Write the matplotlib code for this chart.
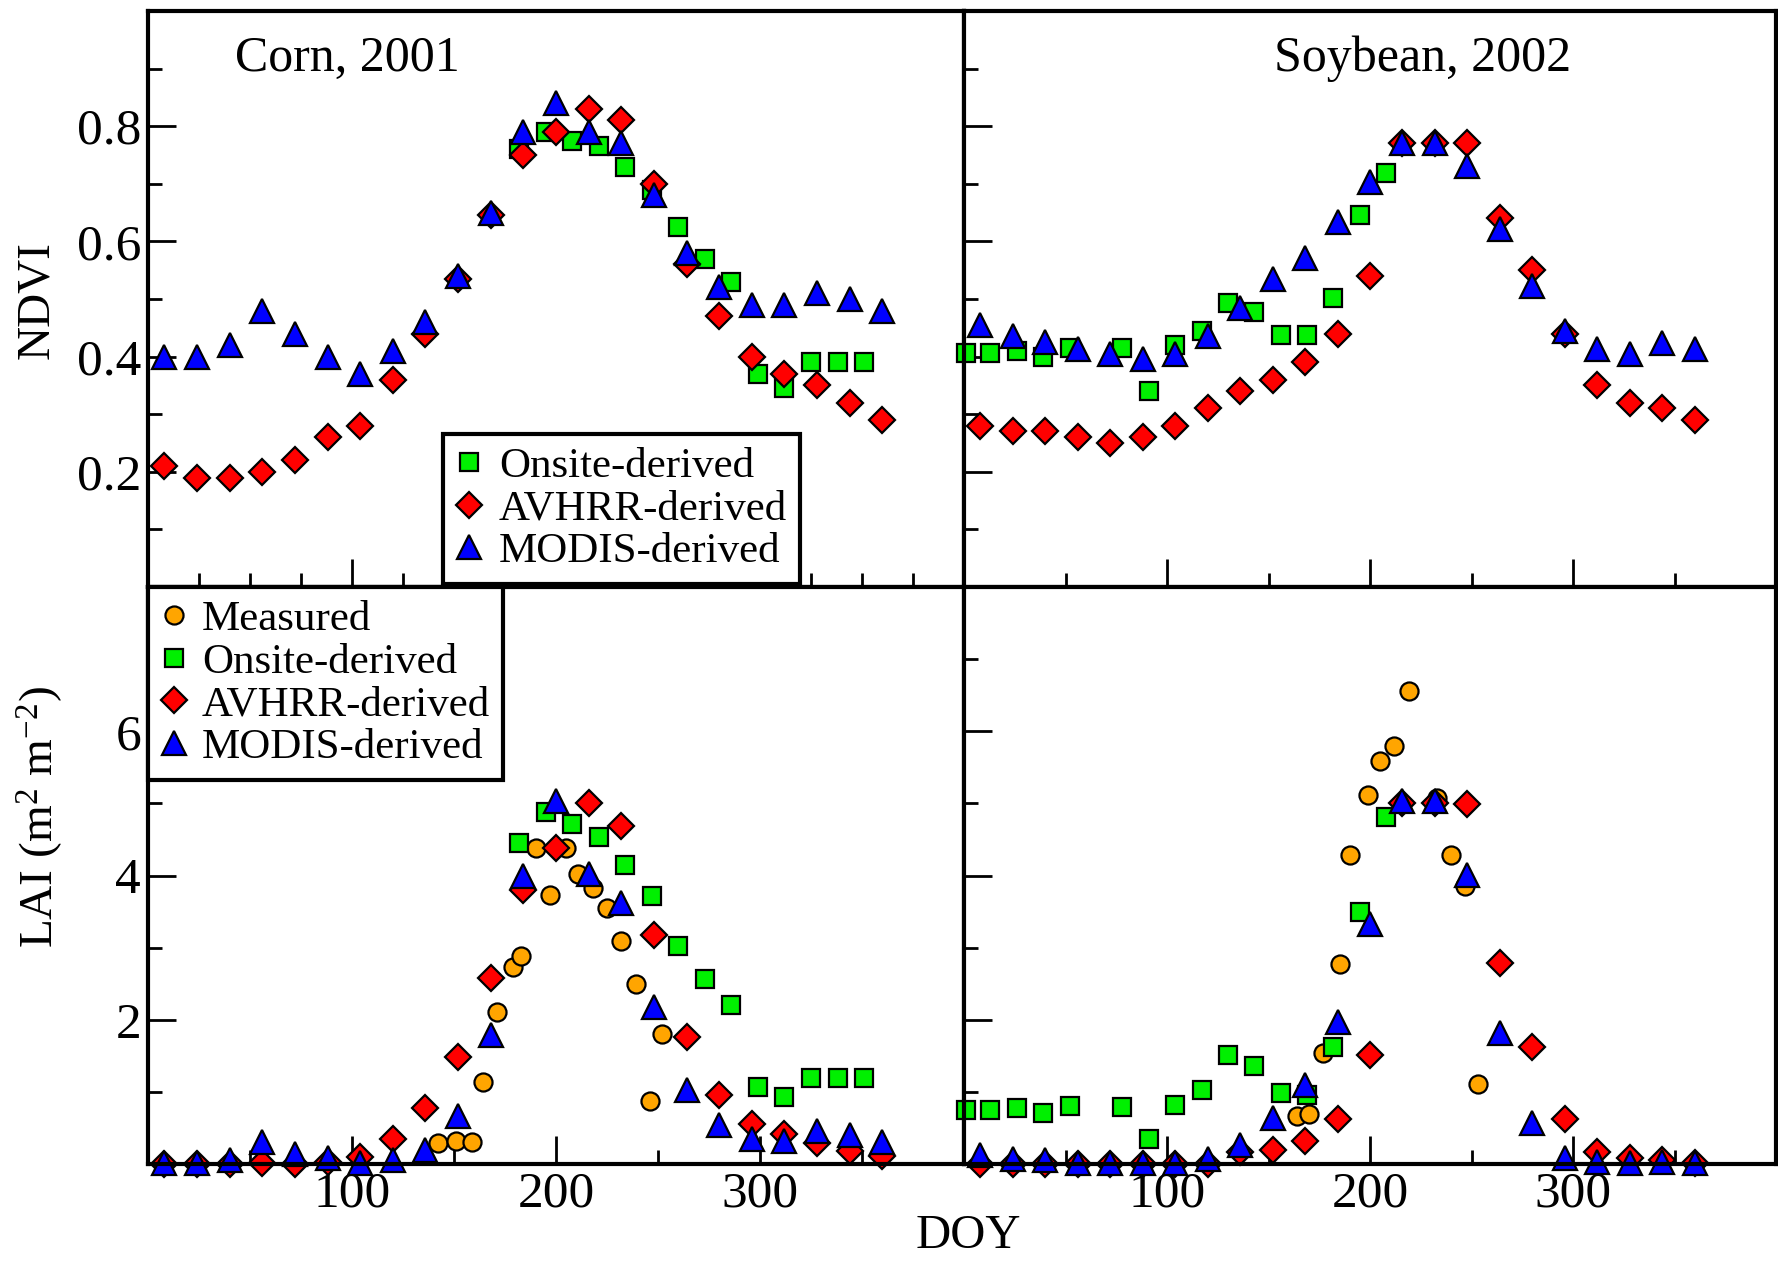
import matplotlib
matplotlib.use("Agg")
import matplotlib.pyplot as plt
from matplotlib.ticker import MultipleLocator, FixedLocator

plt.rcParams['font.family'] = 'Liberation Serif'
plt.rcParams['mathtext.fontset'] = 'custom'
plt.rcParams['mathtext.rm'] = 'Liberation Serif'
plt.rcParams['mathtext.it'] = 'Liberation Serif:italic'

## datos: MODIS / AVHRR cada 16 dias
doy16 = [8, 24, 40, 56, 72, 88, 104, 120, 136, 152, 168, 184, 200, 216, 232,
         248, 264, 280, 296, 312, 328, 344, 360]

# Corn, 2001
corn_modis_ndvi = [0.40, 0.40, 0.42, 0.48, 0.44, 0.40, 0.37, 0.41, 0.46, 0.54, 0.65, 0.79,
                   0.84, 0.79, 0.77, 0.68, 0.58, 0.52, 0.49, 0.49, 0.51, 0.50, 0.48]
corn_avhrr_ndvi = [0.21, 0.19, 0.19, 0.20, 0.22, 0.26, 0.28, 0.36, 0.44, 0.535, 0.645, 0.75,
                   0.79, 0.83, 0.81, 0.70, 0.56, 0.47, 0.40, 0.37, 0.35, 0.32, 0.29]
corn_onsite_doy = [182, 195, 208, 221, 234, 247, 260, 273, 286, 299, 312, 325, 338, 351]
corn_onsite_ndvi = [0.76, 0.79, 0.775, 0.765, 0.73, 0.69, 0.625, 0.57, 0.53, 0.37, 0.345,
                    0.39, 0.39, 0.39]
corn_onsite_lai = [4.45, 4.88, 4.71, 4.54, 4.15, 3.71, 3.02, 2.56, 2.21, 1.07, 0.93,
                   1.19, 1.19, 1.19]
corn_meas_doy = [142, 151, 159, 164, 171, 179, 183, 190, 197, 205, 211, 218, 225, 232,
                 239, 246, 252]
corn_meas_lai = [0.29, 0.32, 0.31, 1.14, 2.11, 2.73, 2.89, 4.38, 3.73, 4.38, 4.02, 3.83,
                 3.55, 3.09, 2.50, 0.87, 1.80]
corn_modis_lai = [0.01, 0.01, 0.05, 0.30, 0.14, 0.08, 0.02, 0.05, 0.19, 0.67, 1.79, 3.99,
                  5.03, 4.02, 3.62, 2.18, 1.02, 0.54, 0.34, 0.32, 0.46, 0.40, 0.30]
corn_avhrr_lai = [0.0, 0.0, 0.0, 0.02, 0.0, 0.03, 0.10, 0.35, 0.77, 1.49, 2.58, 3.80,
                  4.38, 5.0, 4.68, 3.18, 1.76, 0.96, 0.56, 0.42, 0.29, 0.18, 0.11]

# Soybean, 2002
soy_modis_ndvi = [0.455, 0.435, 0.425, 0.413, 0.405, 0.396, 0.405, 0.435, 0.484, 0.534,
                  0.571, 0.633, 0.703, 0.771, 0.771, 0.731, 0.622, 0.523, 0.444, 0.413,
                  0.404, 0.424, 0.413]
soy_avhrr_ndvi = [0.28, 0.27, 0.27, 0.26, 0.25, 0.26, 0.28, 0.31, 0.34, 0.36, 0.39, 0.44,
                  0.54, 0.77, 0.77, 0.77, 0.64, 0.55, 0.44, 0.35, 0.32, 0.31, 0.29]
soy_onsite_doy = [1, 13, 26, 39, 52, 78, 91, 104, 117, 130, 143, 156, 169, 182, 195, 208]
soy_onsite_ndvi = [0.407, 0.407, 0.41, 0.40, 0.415, 0.415, 0.34, 0.42, 0.444, 0.493,
                   0.478, 0.438, 0.438, 0.502, 0.645, 0.719]
soy_onsite_lai = [0.75, 0.75, 0.78, 0.71, 0.80, 0.79, 0.34, 0.82, 1.03, 1.51, 1.36, 0.99,
                  0.96, 1.62, 3.50, 4.81]
soy_meas_doy = [164, 170, 177, 185, 190, 199, 205, 212, 219, 233, 240, 247, 253]
soy_meas_lai = [0.67, 0.70, 1.54, 2.77, 4.28, 5.11, 5.59, 5.79, 6.56, 5.08, 4.28, 3.86, 1.11]
soy_modis_lai = [0.12, 0.07, 0.05, 0.02, 0.02, 0.02, 0.02, 0.07, 0.27, 0.64, 1.09, 1.97,
                 3.33, 5.03, 5.03, 4.01, 1.81, 0.57, 0.08, 0.03, 0.02, 0.03, 0.02]
soy_avhrr_lai = [0.0, 0.0, 0.0, 0.0, 0.0, 0.0, 0.0, 0.0, 0.17, 0.19, 0.32, 0.62, 1.51,
                 5.0, 5.0, 4.99, 2.78, 1.62, 0.62, 0.17, 0.08, 0.05, 0.02]

ndvi_ticks = [0.2, 0.4, 0.6, 0.8]
lai_ticks = [2, 4, 6]
doy_ticks = [100, 200, 300]

# estilos
meas = dict(marker='o', ms=13, mfc='#ffa500', ls='none', label='Measured')
onsite = dict(marker='s', ms=13, mfc='#00f000', ls='none', label='Onsite-derived')
avhrr = dict(marker='D', ms=13.5, mfc='#ff0000', ls='none', label='AVHRR-derived')
modis = dict(marker='^', ms=17, mfc='#0000ff', ls='none', label='MODIS-derived')
for st in (meas, onsite, avhrr, modis):
    st['mec'] = 'black'
    st['mew'] = 1.6

fig = plt.figure(figsize=(17.78, 12.61), dpi=100)
L = 148/1778.
M = 964/1778.
R = 1776/1778.
T = 1 - 11/1261.
C = 1 - 587/1261.
B = 1 - 1164/1261.
ax1 = fig.add_axes([L, C, M-L, T-C])
ax2 = fig.add_axes([M, C, R-M, T-C])
ax3 = fig.add_axes([L, B, M-L, C-B])
ax4 = fig.add_axes([M, B, R-M, C-B])

ax1.plot(corn_onsite_doy, corn_onsite_ndvi, **onsite)
ax1.plot(doy16, corn_avhrr_ndvi, **avhrr)
ax1.plot(doy16, corn_modis_ndvi, **modis)

ax2.plot(soy_onsite_doy, soy_onsite_ndvi, **onsite)
ax2.plot(doy16, soy_avhrr_ndvi, **avhrr)
ax2.plot(doy16, soy_modis_ndvi, **modis)

ax3.plot(corn_meas_doy, corn_meas_lai, **meas)
ax3.plot(corn_onsite_doy, corn_onsite_lai, **onsite)
ax3.plot(doy16, corn_avhrr_lai, **avhrr)
ax3.plot(doy16, corn_modis_lai, **modis)

ax4.plot(soy_meas_doy, soy_meas_lai, **meas)
ax4.plot(soy_onsite_doy, soy_onsite_lai, **onsite)
ax4.plot(doy16, soy_avhrr_lai, **avhrr)
ax4.plot(doy16, soy_modis_lai, **modis)

for ax in (ax1, ax2, ax3, ax4):
    ax.set_xlim(0, 400)
    ax.xaxis.set_major_locator(FixedLocator(doy_ticks))
    ax.xaxis.set_minor_locator(MultipleLocator(50))
    ax.tick_params(which='major', direction='in', length=20, width=2, labelsize=37, pad=5)
    ax.tick_params(which='minor', direction='in', length=10, width=2)
    for s in ax.spines.values():
        s.set_linewidth(3)
    for ln in ax.lines:
        ln.set_clip_on(False)

ax1.xaxis.set_minor_locator(MultipleLocator(25))

for ax in (ax1, ax2):
    ax.set_ylim(0, 1.0)
    ax.yaxis.set_major_locator(FixedLocator(ndvi_ticks))
    ax.yaxis.set_minor_locator(FixedLocator([0.1, 0.3, 0.5, 0.7, 0.9]))
    ax.tick_params(labelbottom=False)
for ax in (ax3, ax4):
    ax.set_ylim(0, 8)
    ax.yaxis.set_major_locator(FixedLocator(lai_ticks))
    ax.yaxis.set_minor_locator(FixedLocator([1, 3, 5, 7]))
for ax in (ax2, ax4):
    ax.tick_params(labelleft=False)

ax1.text(0.107, 0.896, 'Corn, 2001', transform=ax1.transAxes, fontsize=36, va='baseline')
ax2.text(0.382, 0.896, 'Soybean, 2002', transform=ax2.transAxes, fontsize=36, va='baseline')

leg1 = ax1.legend(loc='lower left', bbox_to_anchor=(0.3615, 0.005), borderaxespad=0,
                  fontsize=31, handlelength=0.6, handletextpad=0.4, borderpad=0.3,
                  labelspacing=0.08, fancybox=False, framealpha=1, edgecolor='black')
leg1.get_frame().set_linewidth(3)
leg3 = ax3.legend(loc='upper left', bbox_to_anchor=(0.0, 1.0), borderaxespad=0,
                  fontsize=31, handlelength=0.6, handletextpad=0.35, borderpad=0.3,
                  labelspacing=0.08, fancybox=False, framealpha=1, edgecolor='black')
leg3.get_frame().set_linewidth(3)

fig.text(37/1778., 1 - 300/1261., 'NDVI', rotation=90, fontsize=34, ha='center', va='center')
fig.text(40/1778., 1 - 817/1261., 'LAI (m$^2$ m$^{-2}$)', rotation=90, fontsize=34,
         ha='center', va='center')
fig.text(968/1778., 1 - 1236/1261., 'DOY', fontsize=35, ha='center', va='center')

plt.savefig("out.png", dpi=100)
plt.close()
